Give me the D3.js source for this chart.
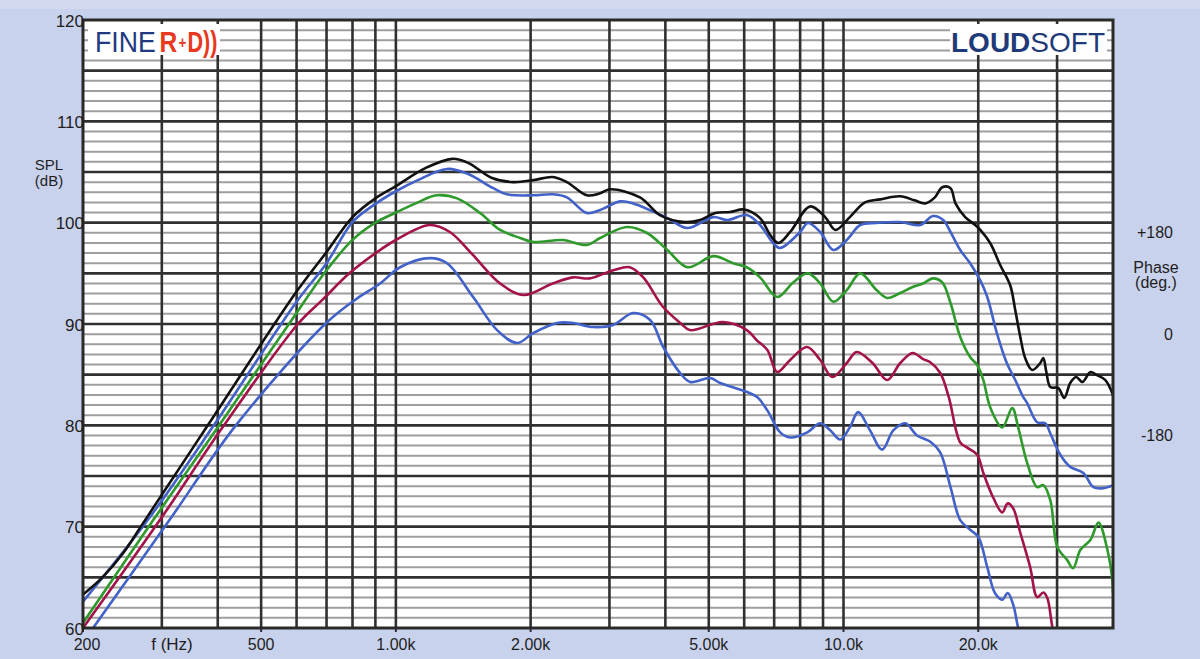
<!DOCTYPE html>
<html><head><meta charset="utf-8">
<script src="https://cdn.jsdelivr.net/npm/d3@7"></script>
<style>
body{margin:0;background:#c9d2ec;}
svg{display:block;font-family:"Liberation Sans",Arial,Helvetica,sans-serif;}
</style>
</head><body>
<svg id="chart" width="1200" height="659"></svg>
<script>
// ---------- data ----------
const freqBlack = [200,221,246,272,380,600,700,800,900,1000,1166,1336,1450,1640,1830,2030,2240,2410,2670,2860,3010,3510,3890,4420,4780,5170,5580,6000,6510,6860,7150,7600,8420,9100,9590,10330,11170,12080,13390,14410,15220,16000,16620,17340,17790,18700,19690,20210,21260,22400,23580,24190,24830,25460,26390,27520,27950,28390,28980,30190,31130,32100,33090,34160,35630,36730,38460,40000];
const splBlack = [63.3,65.0,67.4,70.3,80.0,93.2,97.1,100.55,102.4,103.6,105.4,106.3,105.9,104.4,104.0,104.2,104.5,104.0,102.7,102.9,103.3,102.5,100.75,100.06,100.26,100.95,101.05,101.3,100.45,98.78,97.99,99.08,101.6,100.55,99.28,100.55,102.0,102.3,102.6,102.2,101.9,102.5,103.5,103.4,101.9,100.55,99.77,99.28,97.99,95.8,93.8,91.38,88.72,86.64,85.46,86.15,86.64,85.26,83.78,83.68,82.7,84.18,84.77,84.28,85.26,84.97,84.47,83.0];

const freqBlue1 = [200,279,392,600,700,800,900,1000,1120,1300,1450,1650,1770,2030,2240,2410,2670,2860,3170,3390,4040,4470,5120,5500,6080,6510,6960,7220,8000,8330,8870,9490,10170,10900,11850,13390,14840,15840,16700,17340,18230,19180,20210,20950,22010,23160,24190,25200,25720,27080,28240,28980,30500,32100,34340,36170,38070,40000];
const splBlue1 = [62.6,70.65,80.0,92.2,96.0,100.06,101.85,103.1,104.2,105.3,104.8,103.4,102.8,102.7,102.8,102.5,100.95,101.25,102.1,101.9,100.45,99.47,100.55,100.26,100.75,99.77,97.99,97.5,99.08,99.97,99.08,97.3,98.29,99.77,99.97,100.06,99.77,100.65,100.26,99.08,97.3,96.0,94.3,92.66,89.1,86.15,84.47,82.8,82.2,80.3,80.2,79.2,77.1,75.9,75.3,73.9,73.8,74.1];

const freqGreen = [200,287,403,577,700,800,900,1000,1120,1232,1370,1542,1710,1895,2030,2360,2670,2860,3280,3640,4040,4490,5120,5670,6080,6510,7110,7720,8330,8870,9490,10170,10900,11850,12520,13390,14270,15060,15840,16620,17340,18230,19180,19890,20530,21260,22630,23820,24560,25720,27080,27950,28980,30040,31610,32580,33810,35630,37120,38870,39870,40000];
const splGreen = [60.5,70.65,80.0,90.0,95.3,98.3,100.0,101.0,102.0,102.7,102.4,100.95,99.28,98.49,98.09,98.29,97.8,98.49,99.57,98.98,97.3,95.6,96.7,96.0,95.6,94.6,92.66,94.1,95.0,94.0,92.2,93.35,95.0,93.35,92.57,93.06,93.65,94.0,94.5,94.1,92.07,88.72,86.74,85.95,84.47,81.8,79.8,81.7,79.8,76.3,73.9,74.1,72.6,68.0,66.7,65.9,67.7,68.7,70.4,67.7,64.7,63.5];

const freqRed = [200,297,413,604,686,787,908,1000,1190,1320,1480,1710,1930,2240,2490,2710,3060,3330,3570,3950,4320,4540,5380,6080,6400,6760,7110,7600,8290,8870,9440,10170,10700,11610,12520,13390,14270,15060,15600,16450,17180,18230,18890,19890,20530,21580,22630,23270,23940,24830,26120,27080,27950,28530,29280,30500];
const splRed = [60.0,70.65,80.0,90.0,92.4,95.0,97.1,98.29,99.77,99.08,96.9,94.0,92.86,94.0,94.6,94.5,95.3,95.6,94.6,91.7,90.1,89.4,90.2,89.4,88.4,87.43,85.26,86.45,87.73,86.45,84.77,86.15,87.24,86.15,84.47,86.15,87.14,86.54,86.25,85.16,82.8,78.3,77.8,77.1,75.3,72.9,71.4,72.3,71.8,69.4,66.0,63.05,63.5,62.96,60.1,56.5];

const freqBlue2 = [200,312,439,695,812,922,1022,1193,1301,1488,1683,1866,2026,2292,2489,2759,3058,3388,3698,3956,4316,4545,5036,5300,6092,6414,6754,7220,7600,8298,8870,9350,9830,10330,10786,11460,12200,12920,13740,14590,15600,16450,17340,18230,19180,20000,20950,21790,22630,23270,23940,24560,25200];
const splBlue2 = [58.6,70.65,80.0,90.0,92.4,94.0,95.6,96.5,96.0,92.66,89.4,88.12,89.1,90.1,90.1,89.7,89.9,91.08,90.39,87.73,85.16,84.28,84.67,84.18,83.29,82.79,81.5,79.3,78.8,79.3,80.2,79.5,78.6,79.8,81.3,79.5,77.6,79.5,80.2,79.0,78.4,77.3,73.9,70.65,69.7,69.0,66.0,63.45,62.8,63.45,62.3,60.0,58.3];

const xTickValues = [200,500,1000,2000,5000,10000,20000];
const xTickLabels = ["200","500","1.00k","2.00k","5.00k","10.0k","20.0k"];
const yTickValues = [60,70,80,90,100,110,120];
const phaseTickValues = [180,0,-180];
const phaseTickLabels = ["+180","0","-180"];

// ---------- layout ----------
const L = 83, R = 1113, T = 20, B = 628;
const svg = d3.select("#chart");
const x = d3.scaleLog().domain([200, 40000]).range([L, R]);
const y = d3.scaleLinear().domain([60, 120]).range([B, T]);
// phase axis: +180 aligns with 99 dB, -180 with 79 dB
const yPhase = d3.scaleLinear().domain([-180, 180]).range([y(79), y(99)]);

svg.append("rect").attr("width",1200).attr("height",659).attr("fill","#c9d2ec");
svg.append("rect").attr("width",1200).attr("height",9).attr("fill","#d3daf0");
svg.append("rect").attr("x",L).attr("y",T).attr("width",R-L).attr("height",B-T).attr("fill","#ffffff");

const grid = svg.append("g");
d3.range(61,120).filter(v => v % 5 !== 0).forEach(v => {
  grid.append("line").attr("x1",L).attr("x2",R).attr("y1",y(v)).attr("y2",y(v))
    .attr("stroke","#a09e9c").attr("stroke-width",2);
});
d3.range(65,120,5).forEach(v => {
  grid.append("line").attr("x1",L).attr("x2",R).attr("y1",y(v)).attr("y2",y(v))
    .attr("stroke","#303030").attr("stroke-width",2.6);
});
const vlines = [];
[100,1000,10000].forEach(d => { for (let n=2;n<=9;n++){ const f=n*d; if (f>200 && f<40000) vlines.push(f);} });
[1000,10000].forEach(f => vlines.push(f));
vlines.forEach(f => {
  grid.append("line").attr("x1",x(f)).attr("x2",x(f)).attr("y1",T).attr("y2",B)
    .attr("stroke","#303030").attr("stroke-width",2.6);
});
xTickValues.forEach(f => {
  grid.append("line").attr("x1",x(f)).attr("x2",x(f)).attr("y1",B).attr("y2",B+4)
    .attr("stroke","#303030").attr("stroke-width",2);
});

// logo boxes
svg.append("rect").attr("x",88).attr("y",24).attr("width",132).attr("height",31).attr("fill","#ffffff");
svg.append("rect").attr("x",950).attr("y",24).attr("width",157).attr("height",31).attr("fill","#ffffff");

// curves
svg.append("clipPath").attr("id","clip").append("rect")
  .attr("x",L).attr("y",T).attr("width",R-L).attr("height",B-T);
const line = d3.line().x(d => x(d[0])).y(d => y(d[1])).curve(d3.curveCatmullRom.alpha(0.5));
const series = [
  {f: freqBlue2, v: splBlue2, c: "#4262c9"},
  {f: freqRed,   v: splRed,   c: "#a3134a"},
  {f: freqGreen, v: splGreen, c: "#2f9a2c"},
  {f: freqBlue1, v: splBlue1, c: "#4262c9"},
  {f: freqBlack, v: splBlack, c: "#111111"}
];
const cg = svg.append("g").attr("clip-path","url(#clip)");
series.forEach(s => {
  cg.append("path").datum(s.f.map((f,i)=>[f,s.v[i]]))
    .attr("d", line).attr("fill","none").attr("stroke", s.c)
    .attr("stroke-width",2.6).attr("stroke-linejoin","round").attr("stroke-linecap","round");
});

svg.append("rect").attr("x",L).attr("y",T).attr("width",R-L).attr("height",B-T)
  .attr("fill","none").attr("stroke","#2a2a2a").attr("stroke-width",3);

// axis labels
const txt = svg.append("g").attr("fill","#1e1e1e");
yTickValues.forEach(v => {
  txt.append("text").attr("x",L+1).attr("y",y(v)+6.5).attr("text-anchor","end")
    .attr("font-size",17).text(v);
});
xTickValues.forEach((f,i) => {
  txt.append("text").attr("x",x(f)+(i===0?4:0)).attr("y",650).attr("text-anchor","middle")
    .attr("font-size",16).text(xTickLabels[i]);
});
txt.append("text").attr("x",172).attr("y",650).attr("text-anchor","middle").attr("font-size",17).text("f (Hz)");
txt.append("text").attr("x",49).attr("y",170).attr("text-anchor","middle").attr("font-size",15).text("SPL");
txt.append("text").attr("x",49).attr("y",186).attr("text-anchor","middle").attr("font-size",15).text("(dB)");
phaseTickValues.forEach((p,i) => {
  txt.append("text").attr("x",1173).attr("y",yPhase(p)+5.5).attr("text-anchor","end")
    .attr("font-size",16).text(phaseTickLabels[i]);
});
txt.append("text").attr("x",1156).attr("y",273).attr("text-anchor","middle").attr("font-size",16).text("Phase");
txt.append("text").attr("x",1156).attr("y",288).attr("text-anchor","middle").attr("font-size",16).text("(deg.)");

// logos (separate pieces, horizontally condensed with transforms)
const logoPart = (tx, ty, sx, size, weight, color, s) =>
  svg.append("text").attr("transform", `translate(${tx},${ty}) scale(${sx},1)`)
    .attr("font-size", size).attr("font-weight", weight).attr("fill", color).text(s);
logoPart(95, 52, 0.89, 30, "normal", "#1f3a80", "FINE");
logoPart(159.5, 52, 0.82, 30, "bold", "#e8381d", "R");
logoPart(178.5, 48, 0.8, 17, "bold", "#e8381d", "+");
logoPart(187.5, 52, 0.72, 30, "bold", "#e8381d", "D))");
const loud = svg.append("text").attr("x",1105).attr("y",52).attr("font-size",28).attr("text-anchor","end").attr("fill","#1f3a78");
loud.append("tspan").attr("font-weight","bold").text("LOUD");
loud.append("tspan").text("SOFT");
</script>
</body></html>
